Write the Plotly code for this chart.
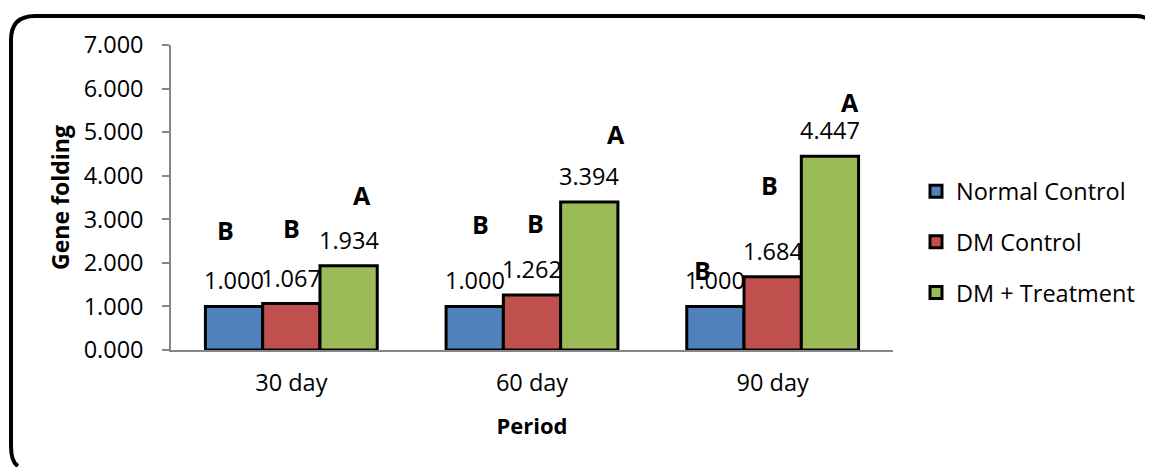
import plotly.graph_objects as go

# ---- data ----
periods = ["30 day", "60 day", "90 day"]
series_names = ["Normal Control", "DM Control", "DM + Treatment"]
normal_control = [1.000, 1.000, 1.000]
dm_control = [1.067, 1.262, 1.684]
dm_treatment = [1.934, 3.394, 4.447]
y_ticks = [0, 1, 2, 3, 4, 5, 6, 7]

# significance letters per period, per series
letters_normal = ["B", "B", "B"]
letters_dm = ["B", "B", "B"]
letters_treat = ["A", "A", "A"]
# letter annotation placement (data-unit height, pixel x-shift from bar centre)
letter_h_normal = [2.75, 2.89, 1.83]
letter_h_dm = [2.80, 2.91, 3.78]
letter_h_treat = [3.55, 4.95, 5.70]
letter_dx_normal = [-9, 6, -13]
letter_dx_dm = [0, 3, -3]
letter_dx_treat = [13, 27, 20]

colors = ["#4F81BD", "#C0504D", "#9BBB59"]

# ---- layout geometry (page has an 8px body margin) ----
OFF = 8
W, H = 1153 - OFF, 467 - OFF
ML, MT = 171 - OFF, 45 - OFF
PW = 893 - 171
PH = 350 - 45
MR = W - ML - PW
MB = H - MT - PH
BARGAP = 0.286
FONT = "Open Sans"
FS = 23.5

values = [normal_control, dm_control, dm_treatment]
letters = [letters_normal, letters_dm, letters_treat]
letter_h = [letter_h_normal, letter_h_dm, letter_h_treat]
letter_dx = [letter_dx_normal, letter_dx_dm, letter_dx_treat]

fig = go.Figure()
for i, (name, vals) in enumerate(zip(series_names, values)):
    fig.add_trace(go.Bar(
        x=periods, y=vals, name=name, legendgroup=name,
        marker=dict(color=colors[i], line=dict(color="black", width=3)),
        hoverinfo="skip",
    ))

# bar pixel offsets within a group
cat_px = PW / len(periods)
bar_px = cat_px * (1 - BARGAP) / len(series_names)
offsets = [(i - (len(series_names) - 1) / 2) * bar_px for i in range(len(series_names))]

annotations = []
for i in range(len(series_names)):
    for j, p in enumerate(periods):
        annotations.append(dict(
            x=p, y=values[i][j], xref="x", yref="y", text=f"{values[i][j]:.3f}",
            showarrow=False, xshift=offsets[i], yshift=26, yanchor="middle",
            font=dict(size=FS, color="black", family=FONT),
        ))
        annotations.append(dict(
            x=p, y=letter_h[i][j], xref="x", yref="y", text=f"<b>{letters[i][j]}</b>",
            showarrow=False, xshift=offsets[i] + letter_dx[i][j], yanchor="middle",
            font=dict(size=25, color="black", family=FONT),
        ))

# rounded outer border, cut by the page edges (page pixel -> paper conversion)
def px(x):
    return (x - OFF - ML) / PW

def py(y):
    return (MT + PH - (y - OFF)) / PH

L, T, r = 11, 16, 24
path = (f"M {px(L + 7)},{py(466)} Q {px(L)},{py(462)} {px(L)},{py(446)} "
        f"L {px(L)},{py(T + r)} Q {px(L)},{py(T)} {px(L + r)},{py(T)} "
        f"L {px(1136)},{py(T)} Q {px(1147)},{py(T)} {px(1151)},{py(T + 7)}")

fig.update_layout(
    width=W, height=H,
    margin=dict(l=ML, r=MR, t=MT, b=MB),
    paper_bgcolor="white", plot_bgcolor="white",
    font=dict(family=FONT, size=FS, color="black"),
    barmode="group", bargap=BARGAP, bargroupgap=0,
    showlegend=True,
    legend=dict(
        x=px(916), xanchor="left", y=py(242), yanchor="middle",
        font=dict(size=FS, family=FONT), traceorder="grouped", tracegroupgap=17,
        bgcolor="rgba(0,0,0,0)",
    ),
    annotations=annotations,
    shapes=[dict(type="path", xref="paper", yref="paper", path=path,
                 line=dict(color="black", width=4), fillcolor="rgba(0,0,0,0)", layer="above")],
    xaxis=dict(
        showline=True, linecolor="#868686", linewidth=1.5, ticks="",
        showgrid=False, tickfont=dict(size=FS), ticklabelstandoff=11,
        title=dict(text="<b>Period</b>", font=dict(size=22), standoff=22),
    ),
    yaxis=dict(
        range=[0, 7], tickvals=y_ticks, tickformat=".3f",
        showline=True, linecolor="#868686", linewidth=1.5,
        ticks="outside", ticklen=7, tickcolor="#868686", tickwidth=1.5,
        showgrid=False, zeroline=False, tickfont=dict(size=FS), ticklabelstandoff=14,
        title=dict(text="<b>Gene folding</b>", font=dict(size=23), standoff=8),
    ),
)

fig.write_html("out.html")
